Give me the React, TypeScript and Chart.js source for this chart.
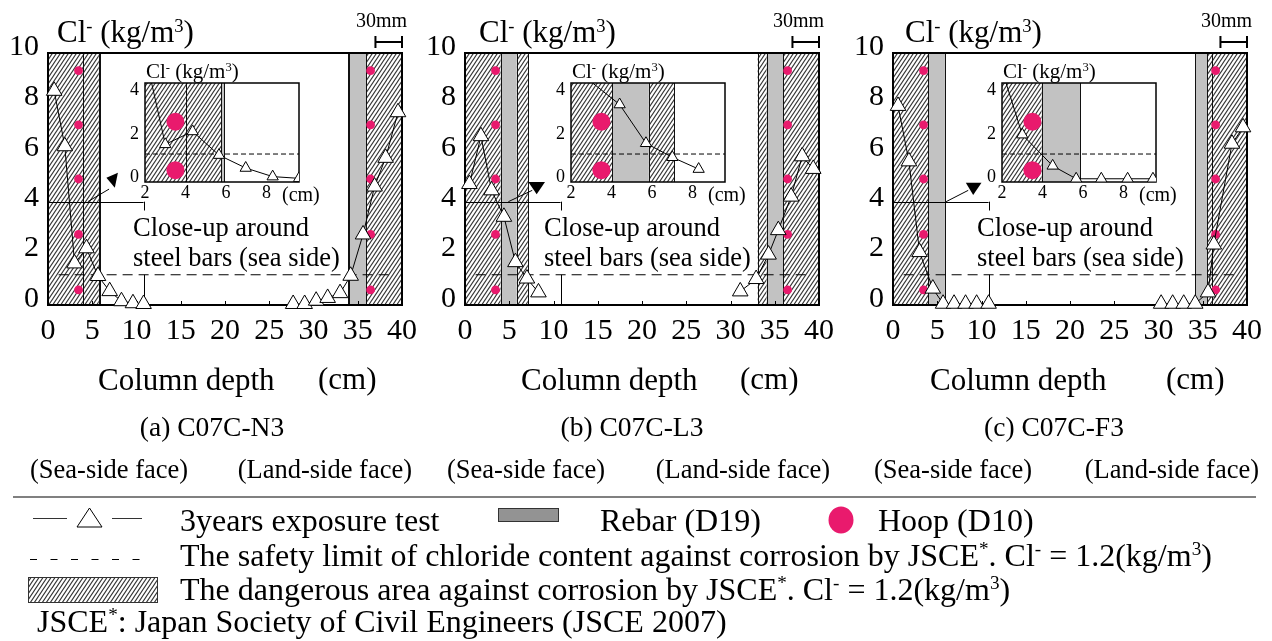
import React, { useEffect, useRef } from 'react';
import { Chart, registerables } from 'chart.js';
Chart.register(...registerables);

const SERIF = "'Liberation Serif','Times New Roman',Times,serif";

// ---------------- data (depth in cm, chloride in kg/m3) ----------------
const xTicksMain = [0, 5, 10, 15, 20, 25, 30, 35, 40];
const yTicksMain = [0, 2, 4, 6, 8, 10];
const xTicksInset = [2, 4, 6, 8];
const yTicksInset = [0, 2, 4];

const depthSeaA = [0.7, 1.9, 3.0, 4.35, 5.65, 6.97, 8.3, 9.6, 10.8];
const clSeaA = [8.5, 6.3, 1.65, 2.25, 1.15, 0.55, 0.15, 0.07, 0.04];
const depthLandA = [27.7, 29.0, 30.3, 31.6, 33.0, 34.2, 35.6, 36.9, 38.15, 39.55];
const clLandA = [0.04, 0.04, 0.17, 0.28, 0.47, 1.16, 2.8, 4.7, 5.84, 7.65];

const depthSeaB = [0.5, 1.8, 3.0, 4.4, 5.7, 7.0, 8.3];
const clSeaB = [4.8, 6.7, 4.55, 3.5, 1.7, 1.05, 0.5];
const depthLandB = [31.1, 32.9, 34.3, 35.4, 36.85, 38.1, 39.35];
const clLandB = [0.54, 1.03, 2.0, 2.97, 4.3, 5.9, 5.4];

const depthSeaC = [0.57, 1.8, 3.0, 4.5, 5.66, 6.9, 8.2, 9.45, 10.8];
const clSeaC = [7.9, 5.7, 2.1, 0.65, 0.05, 0.05, 0.05, 0.05, 0.05];
const depthLandC = [30.3, 31.6, 32.85, 34.15, 35.6, 36.25, 38.3, 39.55];
const clLandC = [0.05, 0.05, 0.05, 0.05, 0.5, 2.4, 6.4, 7.05];

const hoopDepth = [3.45, 36.45];
const hoopLevel = [0.6, 2.8, 5.0, 7.15, 9.3];
const insetHoopDepth = [3.5];
const insetHoopLevel = [0.45, 2.7];

const safetyLimit = 1.2;
const limitSpanMain = [1.2, 38.6];
const limitSpanInset = [2, 9.6];

// dangerous (hatched) zones and rebar zones along the depth, cm
const hatchA = [[0, 5.75], [33.9, 34.05], [35.95, 40]];
const rebarA = [[5.75, 5.9], [34.05, 35.95]];
const barLinesA = [4];
const hatchB = [[0, 4.03], [5.84, 7.1], [33.07, 34.09], [35.97, 40]];
const rebarB = [[4.03, 5.84], [34.09, 35.97]];
const barLinesB: number[] = [];
const hatchC = [[0, 3.96], [35.5, 40]];
const rebarC = [[3.96, 5.87], [34.15, 35.5]];
const barLinesC = [36];

// ---------------- layout ----------------
const PLOT_W = 354;
const PLOT_TOP = 53;
const PLOT_BOTTOM = 305;
const CW = 440;
const CH = 350;
const Y_AXIS_W = 48;

const INSET_W = 154;
const INSET_H = 99;
const INSET_TOP = 83;
const INSET_YAX = 35;
const INSET_PADTOP = 28;
const INSET_YMAX = 4.5;

interface Spec {
  key: string;
  caption: string;
  seaX: number[]; seaY: number[]; landX: number[]; landY: number[];
  hatch: number[][]; rebar: number[][]; barLines: number[];
  plotLeft: number; insetLeft: number;
  yTitleX: number; captionCX: number; depthX: number; cmX: number; closeX: number;
  seaLabelX: number; landLabelR: number;
  arrowLine: number[][]; arrowHead: number[][];
}

const specs: Spec[] = [
  {
    key: 'a', caption: '(a) C07C-N3',
    seaX: depthSeaA, seaY: clSeaA, landX: depthLandA, landY: clLandA,
    hatch: hatchA, rebar: rebarA, barLines: barLinesA,
    plotLeft: 48, insetLeft: 145,
    yTitleX: 57, captionCX: 212, depthX: 98, cmX: 318, closeX: 133,
    seaLabelX: 30, landLabelR: 412,
    arrowLine: [[4.5, 4.1], [6.9, 4.6]],
    arrowHead: [[6.6, 5.05], [7.55, 4.65], [7.9, 5.25]],
  },
  {
    key: 'b', caption: '(b) C07C-L3',
    seaX: depthSeaB, seaY: clSeaB, landX: depthLandB, landY: clLandB,
    hatch: hatchB, rebar: rebarB, barLines: barLinesB,
    plotLeft: 465, insetLeft: 571,
    yTitleX: 479, captionCX: 632, depthX: 521, cmX: 740, closeX: 544,
    seaLabelX: 447, landLabelR: 830,
    arrowLine: [[4.9, 4.1], [7.6, 4.55]],
    arrowHead: [[7.16, 4.88], [9.04, 4.88], [8.1, 4.39]],
  },
  {
    key: 'c', caption: '(c) C07C-F3',
    seaX: depthSeaC, seaY: clSeaC, landX: depthLandC, landY: clLandC,
    hatch: hatchC, rebar: rebarC, barLines: barLinesC,
    plotLeft: 893, insetLeft: 1002,
    yTitleX: 905, captionCX: 1054, depthX: 930, cmX: 1166, closeX: 977,
    seaLabelX: 874, landLabelR: 1259,
    arrowLine: [[6.0, 4.1], [8.5, 4.55]],
    arrowHead: [[8.23, 4.85], [10.0, 4.85], [9.06, 4.37]],
  },
];

// ---------------- helpers ----------------
function makeHatch(): CanvasPattern | string {
  const c = document.createElement('canvas');
  c.width = 4; c.height = 6;
  const g = c.getContext('2d');
  if (!g) return '#999';
  g.fillStyle = '#fff';
  g.fillRect(0, 0, 4, 6);
  g.strokeStyle = '#333';
  g.lineWidth = 1.15;
  for (const off of [-4, 0, 4]) {
    g.beginPath();
    g.moveTo(-4 + off, 12);
    g.lineTo(8 + off, -6);
    g.stroke();
  }
  return g.createPattern(c, 'repeat') || '#999';
}

function vline(ctx: CanvasRenderingContext2D, x: number, top: number, bottom: number) {
  const xx = Math.round(x) + 0.5;
  ctx.beginPath();
  ctx.moveTo(xx, top);
  ctx.lineTo(xx, bottom);
  ctx.stroke();
}

function drawZones(chart: any, spec: Spec, pattern: CanvasPattern | string) {
  const { ctx, chartArea: a, scales } = chart;
  const px = (v: number) => scales.x.getPixelForValue(v);
  ctx.save();
  ctx.beginPath();
  ctx.rect(a.left, a.top, a.right - a.left, a.bottom - a.top);
  ctx.clip();
  ctx.fillStyle = '#fff';
  ctx.fillRect(a.left, a.top, a.right - a.left, a.bottom - a.top);
  ctx.strokeStyle = '#111';
  ctx.lineWidth = 1;
  for (const [x0, x1] of spec.hatch) {
    const l = px(x0), r = px(x1);
    ctx.fillStyle = pattern as any;
    ctx.fillRect(l, a.top, r - l, a.bottom - a.top);
    vline(ctx, l, a.top, a.bottom);
    vline(ctx, r, a.top, a.bottom);
  }
  for (const [x0, x1] of spec.rebar) {
    const l = px(x0), r = px(x1);
    ctx.fillStyle = '#c2c2c2';
    ctx.fillRect(l, a.top, r - l, a.bottom - a.top);
    vline(ctx, l, a.top, a.bottom);
    vline(ctx, r, a.top, a.bottom);
  }
  for (const v of spec.barLines) vline(ctx, px(v), a.top, a.bottom);
  ctx.restore();
}

const tri = (xs: number[], ys: number[]) => xs.map((x, i) => ({ x, y: ys[i] }));
const grid2 = (xs: number[], ys: number[]) => xs.flatMap((x) => ys.map((y) => ({ x, y })));

const triDataset = (data: any[], r: any, clip: any) => ({
  data,
  showLine: true,
  borderColor: '#000',
  borderWidth: 1,
  pointStyle: 'triangle',
  pointRadius: r,
  pointBackgroundColor: '#fff',
  pointBorderColor: '#000',
  pointBorderWidth: 1,
  clip,
});

// ---------------- main panel ----------------
function MainPanel({ spec }: { spec: Spec }) {
  const ref = useRef<HTMLCanvasElement>(null);
  useEffect(() => {
    const pattern = makeHatch();
    const plugin = {
      id: 'zones' + spec.key,
      beforeDatasetsDraw(chart: any) {
        drawZones(chart, spec, pattern);
        const { ctx, chartArea: a, scales } = chart;
        const px = (v: number) => scales.x.getPixelForValue(v);
        const py = (v: number) => scales.y.getPixelForValue(v);
        ctx.save();
        ctx.strokeStyle = '#000';
        ctx.lineWidth = 1;
        // leader to close-up
        const lx = 10.8, ly = 4.1;
        ctx.beginPath();
        ctx.moveTo(a.left, Math.round(py(ly)) + 0.5);
        ctx.lineTo(px(lx), Math.round(py(ly)) + 0.5);
        ctx.stroke();
        vline(ctx, px(lx), py(ly), py(3.75));
        vline(ctx, px(lx), py(safetyLimit), py(0));
        ctx.beginPath();
        ctx.moveTo(px(spec.arrowLine[0][0]), py(spec.arrowLine[0][1]));
        ctx.lineTo(px(spec.arrowLine[1][0]), py(spec.arrowLine[1][1]));
        ctx.stroke();
        ctx.fillStyle = '#000';
        ctx.beginPath();
        spec.arrowHead.forEach(([x, y], i) => (i ? ctx.lineTo(px(x), py(y)) : ctx.moveTo(px(x), py(y))));
        ctx.closePath();
        ctx.fill();
        // inner tick marks on depth axis
        for (const v of xTicksMain) {
          if (v === 0 || v === 40) continue;
          vline(ctx, px(v), a.bottom, a.bottom - 4);
        }
        // frame
        ctx.lineWidth = 2;
        ctx.strokeRect(a.left, a.top, a.right - a.left, a.bottom - a.top);
        // 30 mm scale bar
        const sy = a.top - 11;
        const s0 = px(37), s1 = px(40);
        ctx.beginPath();
        ctx.moveTo(s0, sy); ctx.lineTo(s1, sy);
        ctx.moveTo(s0, sy - 6); ctx.lineTo(s0, sy + 6);
        ctx.moveTo(s1, sy - 6); ctx.lineTo(s1, sy + 6);
        ctx.stroke();
        ctx.restore();
      },
    };
    const chart = new Chart(ref.current as HTMLCanvasElement, {
      type: 'scatter',
      data: {
        datasets: [
          triDataset(tri(spec.seaX, spec.seaY), 9, false),
          triDataset(tri(spec.landX, spec.landY), 9, false),
          {
            data: grid2(hoopDepth, hoopLevel),
            pointStyle: 'circle',
            pointRadius: 4.4,
            pointBackgroundColor: '#E91A6D',
            pointBorderWidth: 0,
            showLine: false,
            clip: false,
          },
          {
            data: limitSpanMain.map((x) => ({ x, y: safetyLimit })),
            showLine: true,
            borderColor: '#000',
            borderWidth: 1,
            borderDash: [10, 6],
            pointRadius: 0,
          },
        ] as any,
      },
      options: {
        responsive: false,
        animation: false,
        devicePixelRatio: 1,
        events: [],
        layout: { padding: { left: 0, top: PLOT_TOP, right: CW - Y_AXIS_W - PLOT_W, bottom: 0 } },
        plugins: { legend: { display: false }, tooltip: { enabled: false } },
        scales: {
          x: {
            type: 'linear', min: 0, max: 40,
            grid: { display: false, drawTicks: false },
            border: { display: false },
            ticks: { font: { family: SERIF, size: 30 }, color: '#000', padding: 8, maxRotation: 0, autoSkip: false },
            afterBuildTicks: (s: any) => { s.ticks = xTicksMain.map((value) => ({ value })); },
            afterFit: (s: any) => { s.height = CH - PLOT_BOTTOM; },
          },
          y: {
            type: 'linear', min: 0, max: 10,
            grid: { display: false, drawTicks: false },
            border: { display: false },
            ticks: { font: { family: SERIF, size: 30 }, color: '#000', padding: 9, labelOffset: -6, autoSkip: false },
            afterBuildTicks: (s: any) => { s.ticks = yTicksMain.map((value) => ({ value })); },
            afterFit: (s: any) => { s.width = Y_AXIS_W; },
          },
        },
      } as any,
      plugins: [plugin],
    });
    return () => chart.destroy();
  }, [spec]);
  return (
    <canvas
      ref={ref}
      width={CW}
      height={CH}
      style={{ position: 'absolute', left: spec.plotLeft - Y_AXIS_W, top: 0, width: CW, height: CH }}
    />
  );
}

// ---------------- inset (close-up) ----------------
const IW = INSET_YAX + INSET_W + 12;
const IH = INSET_PADTOP + INSET_H + 24;

function InsetPanel({ spec }: { spec: Spec }) {
  const ref = useRef<HTMLCanvasElement>(null);
  useEffect(() => {
    const pattern = makeHatch();
    const plugin = {
      id: 'inset' + spec.key,
      beforeDatasetsDraw(chart: any) {
        drawZones(chart, spec, pattern);
        const { ctx, chartArea: a } = chart;
        ctx.save();
        ctx.strokeStyle = '#000';
        ctx.lineWidth = 1.5;
        ctx.strokeRect(a.left, a.top, a.right - a.left, a.bottom - a.top);
        ctx.restore();
      },
    };
    const insetRadius = (c: any) => (c.raw && c.raw.y > INSET_YMAX - 0.1 ? 0 : 6.5);
    const chart = new Chart(ref.current as HTMLCanvasElement, {
      type: 'scatter',
      data: {
        datasets: [
          triDataset(tri(spec.seaX, spec.seaY), insetRadius, 0),
          {
            data: grid2(insetHoopDepth, insetHoopLevel),
            pointStyle: 'circle',
            pointRadius: 9,
            pointBackgroundColor: '#E91A6D',
            pointBorderWidth: 0,
            showLine: false,
            clip: 0,
          },
          {
            data: limitSpanInset.map((x) => ({ x, y: safetyLimit })),
            showLine: true,
            borderColor: '#000',
            borderWidth: 1,
            borderDash: [5, 3],
            pointRadius: 0,
            clip: 0,
          },
        ] as any,
      },
      options: {
        responsive: false,
        animation: false,
        devicePixelRatio: 1,
        events: [],
        layout: { padding: { left: 0, top: INSET_PADTOP, right: IW - INSET_YAX - INSET_W, bottom: 0 } },
        plugins: { legend: { display: false }, tooltip: { enabled: false } },
        scales: {
          x: {
            type: 'linear', min: 2, max: 9.6,
            grid: { display: false, drawTicks: false },
            border: { display: false },
            ticks: { font: { family: SERIF, size: 18 }, color: '#000', padding: 0, maxRotation: 0, autoSkip: false },
            afterBuildTicks: (s: any) => { s.ticks = xTicksInset.map((value) => ({ value })); },
            afterFit: (s: any) => { s.height = IH - INSET_PADTOP - INSET_H; },
          },
          y: {
            type: 'linear', min: -0.1, max: INSET_YMAX,
            grid: { display: false, drawTicks: false },
            border: { display: false },
            ticks: { font: { family: SERIF, size: 18 }, color: '#000', padding: 6, labelOffset: -3, autoSkip: false },
            afterBuildTicks: (s: any) => { s.ticks = yTicksInset.map((value) => ({ value })); },
            afterFit: (s: any) => { s.width = INSET_YAX; },
          },
        },
      } as any,
      plugins: [plugin],
    });
    return () => chart.destroy();
  }, [spec]);
  return (
    <canvas
      ref={ref}
      width={IW}
      height={IH}
      style={{
        position: 'absolute',
        left: spec.insetLeft - INSET_YAX,
        top: INSET_TOP - INSET_PADTOP,
        width: IW,
        height: IH,
      }}
    />
  );
}

// ---------------- text ----------------
const supStyle: React.CSSProperties = { fontSize: '0.6em', verticalAlign: '0.55em', lineHeight: 0 };
const Sup = ({ children }: { children: React.ReactNode }) => <span style={supStyle}>{children}</span>;
const ClUnit = () => (
  <>
    Cl<Sup>-</Sup> (kg/m<Sup>3</Sup>)
  </>
);

function T({ x, y, size, align = 'left', children }: { x: number; y: number; size: number; align?: string; children: React.ReactNode }) {
  return (
    <div
      style={{
        position: 'absolute',
        left: x,
        top: y - size * 0.5,
        fontSize: size,
        lineHeight: 1,
        fontFamily: SERIF,
        whiteSpace: 'nowrap',
        color: '#000',
        transform: align === 'center' ? 'translateX(-50%)' : align === 'right' ? 'translateX(-100%)' : undefined,
      }}
    >
      {children}
    </div>
  );
}

function PanelText({ spec }: { spec: Spec }) {
  const right = spec.plotLeft + PLOT_W;
  return (
    <>
      <T x={spec.yTitleX} y={31} size={31}><ClUnit /></T>
      <T x={right + 5} y={20} size={20} align="right">30mm</T>
      <T x={spec.insetLeft + 1} y={71} size={21}><ClUnit /></T>
      <T x={spec.insetLeft + 137} y={194} size={20}>(cm)</T>
      <T x={spec.closeX} y={227} size={26.5}>Close-up around</T>
      <T x={spec.closeX} y={257} size={26.5}>steel bars (sea side)</T>
      <T x={spec.depthX} y={379} size={31}>Column depth</T>
      <T x={spec.cmX} y={378} size={31}>(cm)</T>
      <T x={spec.captionCX} y={427} size={27.5} align="center">{spec.caption}</T>
      <T x={spec.seaLabelX} y={469} size={26.5}>(Sea-side face)</T>
      <T x={spec.landLabelR} y={469} size={26.5} align="right">(Land-side face)</T>
    </>
  );
}

function Legend() {
  return (
    <>
      <svg width={1272} height={641} style={{ position: 'absolute', left: 0, top: 0 }}>
        <defs>
          <pattern id="hatchLegend" width="4" height="6" patternUnits="userSpaceOnUse">
            <rect width="4" height="6" fill="#fff" />
            <path d="M-4 12 L8 -6 M0 12 L12 -6 M-8 12 L4 -6" stroke="#333" strokeWidth="1.15" />
          </pattern>
        </defs>
        <line x1={13} y1={497} x2={1256} y2={497} stroke="#808080" strokeWidth={2} />
        <line x1={33} y1={518.5} x2={67} y2={518.5} stroke="#333" strokeWidth={1} />
        <polygon points="89.5,508 77,527 102,527" fill="#fff" stroke="#000" strokeWidth={1} />
        <line x1={112} y1={518.5} x2={142} y2={518.5} stroke="#333" strokeWidth={1} />
        <rect x={498.5} y={508.5} width={60} height={13} fill="#939393" stroke="#333" strokeWidth={1} />
        <ellipse cx={841} cy={520} rx={12.5} ry={13.5} fill="#E91A6D" />
        <line x1={30} y1={559.5} x2={144} y2={559.5} stroke="#000" strokeWidth={1} strokeDasharray="7 13.5" />
        <rect x={28.5} y={577.5} width={129} height={25} fill="url(#hatchLegend)" stroke="#333" strokeWidth={1} />
      </svg>
      <T x={180} y={520} size={32}>3years exposure test</T>
      <T x={600} y={520} size={32}>Rebar (D19)</T>
      <T x={878} y={520} size={32}>Hoop (D10)</T>
      <T x={180} y={555} size={32}>
        The safety limit of chloride content against corrosion by JSCE<Sup>*</Sup>. Cl<Sup>-</Sup> = 1.2(kg/m<Sup>3</Sup>)
      </T>
      <T x={180} y={589} size={32}>
        The dangerous area against corrosion by JSCE<Sup>*</Sup>. Cl<Sup>-</Sup> = 1.2(kg/m<Sup>3</Sup>)
      </T>
      <T x={37} y={621} size={32}>
        JSCE<Sup>*</Sup>: Japan Society of Civil Engineers (JSCE 2007)
      </T>
    </>
  );
}

export default function App() {
  return (
    <div
      style={{
        position: 'fixed',
        left: 0,
        top: 0,
        width: 1272,
        height: 641,
        overflow: 'hidden',
        background: '#fff',
      }}
    >
      {specs.map((s) => (
        <MainPanel key={'m' + s.key} spec={s} />
      ))}
      {specs.map((s) => (
        <InsetPanel key={'i' + s.key} spec={s} />
      ))}
      <Legend />
      {specs.map((s) => (
        <PanelText key={'t' + s.key} spec={s} />
      ))}
    </div>
  );
}
